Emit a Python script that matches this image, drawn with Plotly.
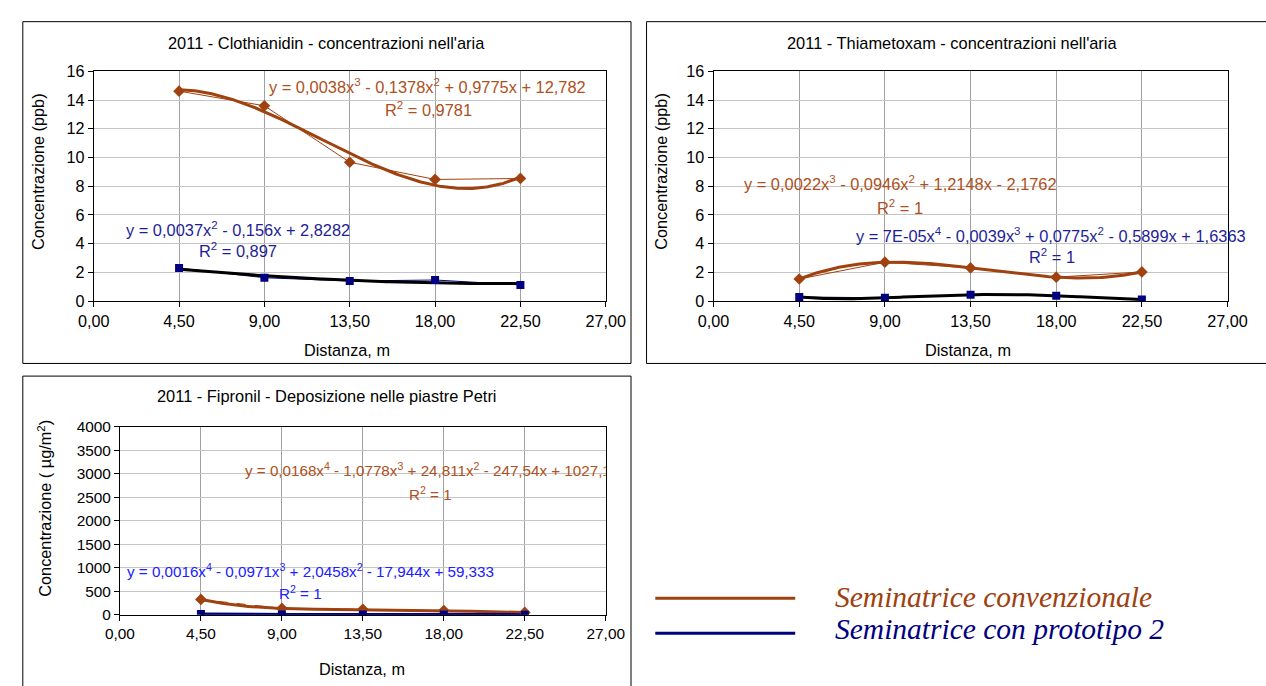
import numpy as np
import plotly.graph_objects as go

W, H = 1266, 686

# ---------------- data ----------------
distanza = [4.5, 9.0, 13.5, 18.0, 22.5]

clothianidin_conv = [14.62, 13.6, 9.67, 8.47, 8.54]
clothianidin_proto = [2.3, 1.63, 1.40, 1.47, 1.13]

thiametoxam_conv = [1.54, 2.71, 2.31, 1.67, 2.03]
thiametoxam_proto = [0.29, 0.23, 0.45, 0.38, 0.11]

fipronil_conv = [324, 133, 113, 88, 47]
fipronil_proto = [12, 4, 4, 2, 1]

titles = ["2011 - Clothianidin - concentrazioni nell'aria",
          "2011 - Thiametoxam - concentrazioni nell'aria",
          "2011 - Fipronil - Deposizione nelle piastre Petri"]

legend_labels = ["Seminatrice convenzionale", "Seminatrice con prototipo 2"]

# ---------------- styles ----------------
OR_LINE = "#A0420F"
OR_TEXT = "#AE5021"
NAVY = "#000080"
NAVY_TEXT = "#1E1E96"
BLUE_TEXT = "#2020FF"
FONT = "Liberation Sans, Arial, sans-serif"
SERIF = "Liberation Serif, Times New Roman, serif"


def px(x):
    return x / W


def py(y):
    return 1 - y / H


fig = go.Figure()


def trend(vals, deg):
    coef = np.polyfit(distanza, vals, deg)
    xs = np.linspace(distanza[0], distanza[-1], 200)
    return xs, np.polyval(coef, xs)


def add_panel(idx, conv, proto, deg_c, deg_p, proto_trend_color, conv_dash="solid"):
    xa = "x" if idx == 1 else f"x{idx}"
    ya = "y" if idx == 1 else f"y{idx}"
    fig.add_trace(go.Scatter(x=distanza, y=conv, mode="lines", xaxis=xa, yaxis=ya,
                             line=dict(color=OR_LINE, width=1, dash=conv_dash), showlegend=False))
    fig.add_trace(go.Scatter(x=distanza, y=proto, mode="lines", xaxis=xa, yaxis=ya,
                             line=dict(color=NAVY, width=1), showlegend=False))
    tx, ty = trend(conv, deg_c)
    fig.add_trace(go.Scatter(x=tx, y=ty, mode="lines", xaxis=xa, yaxis=ya,
                             line=dict(color=OR_LINE, width=3), showlegend=False))
    tx, ty = trend(proto, deg_p)
    fig.add_trace(go.Scatter(x=tx, y=ty, mode="lines", xaxis=xa, yaxis=ya,
                             line=dict(color=proto_trend_color, width=3), showlegend=False))
    fig.add_trace(go.Scatter(x=distanza, y=conv, mode="markers", xaxis=xa, yaxis=ya,
                             marker=dict(symbol="diamond", size=9, color=OR_LINE), showlegend=False))
    fig.add_trace(go.Scatter(x=distanza, y=proto, mode="markers", xaxis=xa, yaxis=ya,
                             marker=dict(symbol="square", size=8, color=NAVY), showlegend=False))


add_panel(1, clothianidin_conv, clothianidin_proto, 3, 2, "#000000")
add_panel(2, thiametoxam_conv, thiametoxam_proto, 3, 4, "#000000")
add_panel(3, fipronil_conv, fipronil_proto, 4, 4, NAVY, conv_dash="dash")

# panel 3 orange equation is clipped by the plot area in the reference -> clipped text trace
fig.add_trace(go.Scatter(
    x=[6.95], y=[3026], mode="text", xaxis="x3", yaxis="y3", cliponaxis=True,
    text=["y = 0,0168x<sup>4</sup> - 1,0778x<sup>3</sup> + 24,811x<sup>2</sup> - 247,54x + 1027,1"],
    textposition="middle right", textfont=dict(family=FONT, size=15.2, color=OR_TEXT),
    showlegend=False, hoverinfo="skip"))


def xcommon(fs):
    return dict(range=[0, 27], tick0=0, dtick=4.5, tickformat=".2f", showgrid=True,
                gridcolor="#a0a0a0", gridwidth=1, ticks="outside", ticklen=5, tickcolor="black",
                showline=True, linecolor="black", linewidth=1, mirror=True, zeroline=False,
                tickfont=dict(family=FONT, size=fs, color="black"), fixedrange=True)


def ycommon(fs):
    return dict(showgrid=True, gridcolor="#c4c4c4", gridwidth=1, ticks="outside", ticklen=5,
                tickcolor="black", showline=True, linecolor="black", linewidth=1, mirror=True,
                zeroline=False, tickfont=dict(family=FONT, size=fs, color="black"), fixedrange=True)


fig.update_layout(
    width=W, height=H, margin=dict(l=0, r=0, t=0, b=0),
    paper_bgcolor="white", plot_bgcolor="white", separators=",.",
    showlegend=False,
    xaxis=dict(domain=[px(80), px(607)], anchor="y", **xcommon(16.2)),
    yaxis=dict(domain=[py(300), py(64)], anchor="x", range=[0, 16], dtick=2, **ycommon(16.2)),
    xaxis2=dict(domain=[px(718), px(1247)], anchor="y2", **xcommon(16.2)),
    yaxis2=dict(domain=[py(300), py(64)], anchor="x2", range=[0, 16], dtick=2, **ycommon(16.2)),
    xaxis3=dict(domain=[px(107), px(607)], anchor="y3", **xcommon(15.4)),
    yaxis3=dict(domain=[py(622), py(429)], anchor="x3", range=[0, 4000], dtick=500,
                tickformat="d", **ycommon(15.4)),
)

# panel borders
for (x0, y0, x1, y1) in [(7, 13, 633, 364), (649, 13, 1290, 364), (7, 377, 633, 700)]:
    fig.add_shape(type="rect", xref="paper", yref="paper", x0=px(x0), x1=px(x1),
                  y0=py(y1), y1=py(y0), line=dict(color="black", width=1), layer="below")

ann = []


def text(x, y, s, color="black", size=16.3, angle=0, family=FONT, xanchor="center"):
    ann.append(dict(x=px(x), y=py(y), xref="paper", yref="paper", text=s, showarrow=False,
                    font=dict(family=family, size=size, color=color), textangle=angle,
                    xanchor=xanchor, yanchor="middle"))


# titles
text(320, 35, titles[0], size=16.4)
text(963, 35, titles[1], size=16.4)
text(320, 397, titles[2], size=16.4)
# axis titles
text(341, 350, "Distanza, m")
text(980, 350, "Distanza, m")
text(356, 678, "Distanza, m")
text(22, 167, "Concentrazione (ppb)", angle=-90)
text(663, 167, "Concentrazione (ppb)", angle=-90)
text(29, 513, "Concentrazione ( µg/m<sup>2</sup>)", angle=-90)

# equations
text(424, 79, "y = 0,0038x<sup>3</sup> - 0,1378x<sup>2</sup> + 0,9775x + 12,782", OR_TEXT, 16.4)
text(425, 103, "R<sup>2</sup> = 0,9781", OR_TEXT, 16.4)
text(229, 226, "y = 0,0037x<sup>2</sup> - 0,156x + 2,8282", NAVY_TEXT, 16.4)
text(229, 248, "R<sup>2</sup> = 0,897", NAVY_TEXT, 16.4)

text(910, 179, "y = 0,0022x<sup>3</sup> - 0,0946x<sup>2</sup> + 1,2148x - 2,1762", OR_TEXT, 16.4)
text(910, 203, "R<sup>2</sup> = 1", OR_TEXT, 16.4)
text(1065, 232, "y = 7E-05x<sup>4</sup> - 0,0039x<sup>3</sup> + 0,0775x<sup>2</sup> - 0,5899x + 1,6363",
     NAVY_TEXT, 16.4)
text(1066, 254, "R<sup>2</sup> = 1", NAVY_TEXT, 16.4)

text(427, 498, "R<sup>2</sup> = 1", OR_TEXT, 15.2)
text(112, 577, "y = 0,0016x<sup>4</sup> - 0,0971x<sup>3</sup> + 2,0458x<sup>2</sup> - 17,944x + 59,333",
     BLUE_TEXT, 15.2, xanchor="left")
text(293, 599, "R<sup>2</sup> = 1", BLUE_TEXT, 15.2)

# legend
fig.add_shape(type="line", xref="paper", yref="paper", x0=px(658), x1=px(802), y0=py(605), y1=py(605),
              line=dict(color=OR_LINE, width=3))
fig.add_shape(type="line", xref="paper", yref="paper", x0=px(658), x1=px(802), y0=py(641), y1=py(641),
              line=dict(color=NAVY, width=3))
text(841, 604, "<i>" + legend_labels[0] + "</i>", "#A0400F", size=29.5, family=SERIF, xanchor="left")
text(841, 637, "<i>" + legend_labels[1] + "</i>", NAVY, size=29.5, family=SERIF, xanchor="left")

fig.update_layout(annotations=ann)

fig.write_html("out.html")
